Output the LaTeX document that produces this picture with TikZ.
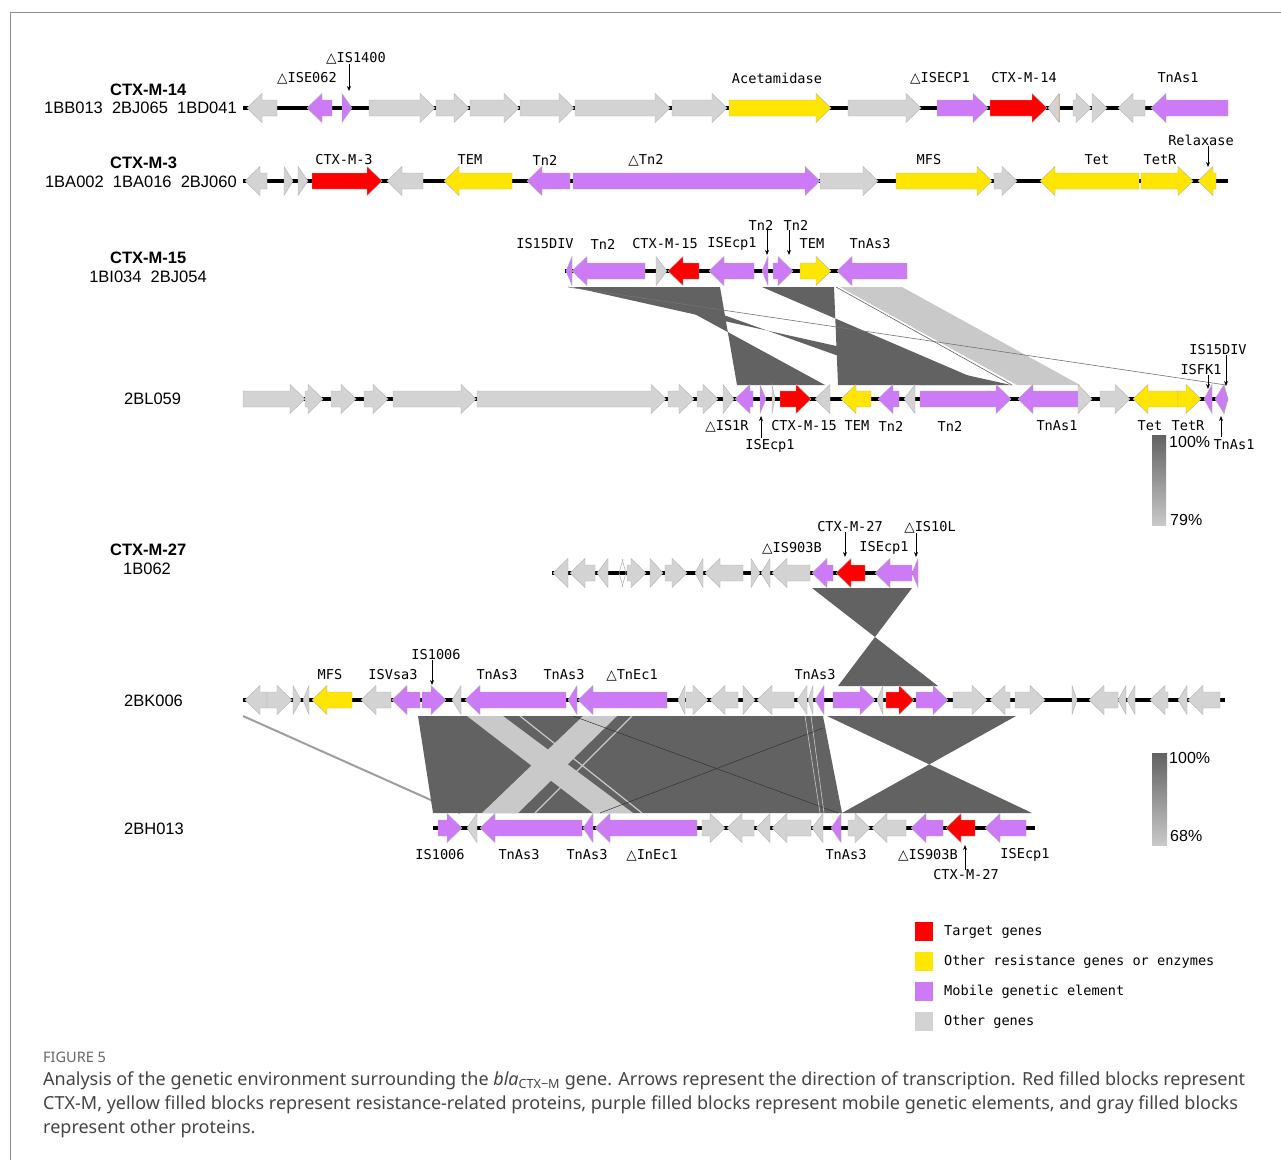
\documentclass[tikz,border=0pt]{standalone}
\usepackage{fontspec}
\setmainfont{Liberation Sans}
\newfontfamily\genefont{DejaVu Sans Mono}
\newfontfamily\trifont{DejaVu Sans}
\newfontfamily\captfont{Noto Sans}
\usetikzlibrary{arrows.meta}
\definecolor{gry}{RGB}{211,211,211}
\definecolor{pur}{RGB}{204,122,245}
\definecolor{yel}{RGB}{255,230,0}
\definecolor{rd}{RGB}{255,0,0}
\definecolor{lkd}{RGB}{98,98,98}
\definecolor{lkl}{RGB}{201,201,201}
\definecolor{captgray}{RGB}{68,68,68}
\newcommand\tri{{\trifont △}}
\tikzset{
  genebd/.style={draw=black!30,line width=0.4pt},
  backbone/.style={line width=3.5pt,black},
  glab/.style={font=\genefont\fontsize{13.6}{15}\selectfont,inner sep=0pt},
  rowlab/.style={font=\fontsize{16.5}{18}\selectfont,inner sep=0pt},
  rowbold/.style={font=\bfseries\fontsize{16.5}{18}\selectfont,inner sep=0pt,anchor=west},
  ptr/.style={-{Stealth[length=5pt,width=4pt]},line width=0.8pt,black},
  pctlab/.style={font=\fontsize{16}{18}\selectfont,inner sep=0pt,anchor=west},
  capt/.style={font=\captfont\fontsize{18}{22}\selectfont,text=captgray,inner sep=0pt,anchor=west},
  legbox/.style={inner sep=0pt,minimum width=18pt,minimum height=19pt},
}
% right-pointing gene: x1 x2 y colour
\newcommand\gR[4]{%
  \pgfmathsetmacro\hb{max(#1,#2-15)}%
  \filldraw[genebd,fill=#4] (#1,#3-8) -- (\hb,#3-8) -- (\hb,#3-14.5) -- (#2,#3) -- (\hb,#3+14.5) -- (\hb,#3+8) -- (#1,#3+8) -- cycle;}
% left-pointing gene: x1 (tip) x2 y colour
\newcommand\gL[4]{%
  \pgfmathsetmacro\hb{min(#2,#1+15)}%
  \filldraw[genebd,fill=#4] (#2,#3-8) -- (\hb,#3-8) -- (\hb,#3-14.5) -- (#1,#3) -- (\hb,#3+14.5) -- (\hb,#3+8) -- (#2,#3+8) -- cycle;}
\begin{document}
\begin{tikzpicture}[x=1pt,y=-1pt]
\useasboundingbox (0,0) rectangle (1281,1160);
\fill[white] (0,0) rectangle (1281,1160);
\draw[black!45,line width=0.8pt] (10,1160) -- (10,12) -- (1281,12);

% ---------------- links ----------------
% row 3 -> row 4
\fill[lkd] (572,287) -- (645,287) -- (920,385) -- (1011,385) -- cycle;
\fill[lkd] (645,287) -- (720,287) -- (737,385) -- (825,385) -- cycle;
\fill[lkd] (762,287) -- (834,287) -- (838,385) -- (990,385) -- cycle;
\fill[lkl] (840,287) -- (902,287) -- (1080,385) -- (1017,385) -- cycle;
\draw[lkd,line width=0.6pt] (836,287) -- (1012,385);
\draw[black!55,line width=0.6pt] (568,287) -- (1226,385);
% row 5 -> row 6
\fill[lkd] (812,588) -- (912,588) -- (838,686) -- (938,686) -- cycle;
% row 6 -> row 7
\draw[black!38,line width=2pt] (243,716) -- (460,813);
\fill[lkd] (418,716) -- (823,716) -- (842,813) -- (433,813) -- cycle;
\fill[lkl] (467,716) -- (503,716) -- (633,813) -- (593,813) -- cycle;
\fill[lkl] (583,716) -- (617,716) -- (518,813) -- (482,813) -- cycle;
\draw[lkl,line width=1.2pt] (520,716) -- (642,813);
\draw[lkl,line width=1.2pt] (632,716) -- (535,813);
\draw[black!80,line width=0.5pt] (573,716) -- (838,813);
\draw[black!80,line width=0.5pt] (600,813) -- (823,728);
\draw[lkl,line width=0.6pt] (805,716) -- (820,813);
\draw[lkl,line width=0.6pt] (811,716) -- (824,813);
\fill[lkd] (827,716) -- (1016,716) -- (842,813) -- (1032,813) -- cycle;

% ---------------- row 1 : CTX-M-14 ----------------
\draw[backbone] (243,108) -- (1228,108);
\gL{247}{277}{108}{gry}
\gL{307}{332}{108}{pur}
\gR{342}{352}{108}{pur}
\gR{369}{435}{108}{gry}
\gR{436}{469}{108}{gry}
\gR{470}{519}{108}{gry}
\gR{520}{574}{108}{gry}
\gR{575}{670}{108}{gry}
\gR{672}{727}{108}{gry}
\gR{729}{831}{108}{yel}
\gR{848}{921}{108}{gry}
\gR{937}{988}{108}{pur}
\gR{990}{1047}{108}{rd}
\gL{1048}{1059}{108}{gry}
\draw[brown!60,line width=0.8pt] (1059,94) -- (1059,122);
\gR{1073}{1091}{108}{gry}
\gR{1092}{1107}{108}{gry}
\gL{1118}{1145}{108}{gry}
\gL{1151}{1228}{108}{pur}
\node[rowbold] (h14) at (110,90) {CTX-M-14};
\node[rowlab,anchor=east] (i14) at (237,108) {1BB013\ \ 2BJ065\ \ 1BD041};
\node[glab] (l062) at (307,78) {\tri ISE062};
\node[glab] (l1400) at (356,58) {\tri IS1400};
\coordinate (p1400) at (349,91);
\draw[ptr] (l1400.south -| p1400) -- (p1400);
\node[glab] (lacet) at (777,78) {Acetamidase};
\node[glab] (lecp) at (940,78) {\tri ISECP1};
\node[glab] (l14) at (1024,78) {CTX-M-14};
\node[glab] (las1) at (1178,78) {TnAs1};

% ---------------- row 2 : CTX-M-3 ----------------
\draw[backbone] (243,181) -- (1228,181);
\gL{245}{267}{181}{gry}
\gR{284}{293}{181}{gry}
\gR{298}{308}{181}{gry}
\gR{312}{382}{181}{rd}
\gL{387}{423}{181}{gry}
\gL{444}{512}{181}{yel}
\gL{527}{570}{181}{pur}
\gR{573}{820}{181}{pur}
\gR{820}{878}{181}{gry}
\gR{896}{992}{181}{yel}
\gR{994}{1017}{181}{gry}
\gL{1040}{1139}{181}{yel}
\gR{1141}{1193}{181}{yel}
\gL{1198}{1216}{181}{yel}
\node[rowbold] (h3) at (110,163) {CTX-M-3};
\node[rowlab,anchor=east] (i3) at (237,182) {1BA002\ \ 1BA016\ \ 2BJ060};
\node[glab] (m3) at (344,160) {CTX-M-3};
\node[glab] (tem2) at (470,160) {TEM};
\node[glab] (tn2a) at (545,160) {Tn2};
\node[glab] (dtn2) at (646,160) {\tri Tn2};
\node[glab] (mfs2) at (929,160) {MFS};
\node[glab] (tet2) at (1097,160) {Tet};
\node[glab] (tetr2) at (1160,160) {TetR};
\node[glab] (relx) at (1201,140) {Relaxase};
\coordinate (prel) at (1208,167);
\draw[ptr] (relx.south -| prel) -- (prel);

% ---------------- row 3 : CTX-M-15 ----------------
\draw[backbone] (565,271) -- (907,271);
\gL{566}{572}{271}{pur}
\gL{572}{645}{271}{pur}
\gR{656}{667}{271}{gry}
\gL{668}{699}{271}{rd}
\gL{709}{754}{271}{pur}
\gL{762}{768}{271}{pur}
\gR{773}{793}{271}{pur}
\gR{800}{831}{271}{yel}
\gL{837}{907}{271}{pur}
\node[rowbold] (h15) at (110,258) {CTX-M-15};
\node[rowlab] (i15) at (148,277) {1BI034\ \ 2BJ054};
\node[glab] (is15) at (545,244) {IS15DIV};
\node[glab] (tn2b) at (603,244) {Tn2};
\node[glab] (m15) at (665,244) {CTX-M-15};
\node[glab] (ecp3) at (732,244) {ISEcp1};
\node[glab] (tn2c) at (761,225) {Tn2};
\node[glab] (tn2d) at (796,225) {Tn2};
\node[glab] (tem3) at (812,244) {TEM};
\node[glab] (as3) at (870,244) {TnAs3};
\coordinate (ptn2c) at (767,255);
\coordinate (ptn2d) at (789,255);
\draw[ptr] (tn2c.south -| ptn2c) -- (ptn2c);
\draw[ptr] (tn2d.south -| ptn2d) -- (ptn2d);

% ---------------- row 4 : 2BL059 ----------------
\draw[backbone] (243,399) -- (1228,399);
\gR{243}{305}{399}{gry}
\gR{305}{323}{399}{gry}
\gR{331}{356}{399}{gry}
\gR{364}{388}{399}{gry}
\gR{393}{476}{399}{gry}
\gR{477}{666}{399}{gry}
\gR{668}{694}{399}{gry}
\gR{697}{718}{399}{gry}
\gR{723}{734}{399}{gry}
\gL{735}{753}{399}{pur}
\gR{760}{766}{399}{pur}
\gR{772}{775}{399}{gry}
\gR{780}{811}{399}{rd}
\gL{815}{830}{399}{gry}
\gL{841}{871}{399}{yel}
\gL{878}{899}{399}{pur}
\gL{904}{915}{399}{gry}
\gR{920}{1011}{399}{pur}
\gL{1018}{1078}{399}{pur}
\gR{1078}{1092}{399}{gry}
\gR{1100}{1130}{399}{gry}
\gL{1133}{1178}{399}{yel}
\gR{1178}{1201}{399}{yel}
\gL{1204}{1212}{399}{pur}
\gL{1215}{1224}{399}{pur}
\gR{1224}{1228}{399}{pur}
\node[rowlab,anchor=west] (h059) at (124,399) {2BL059};
\node[glab] (is1r) at (727,426) {\tri IS1R};
\node[glab] (m15b) at (804,426) {CTX-M-15};
\node[glab] (tem4) at (857,426) {TEM};
\node[glab] (tn2e) at (891,426) {Tn2};
\node[glab] (tn2f) at (950,426) {Tn2};
\node[glab] (as1b) at (1057,426) {TnAs1};
\node[glab] (tet4) at (1150,426) {Tet};
\node[glab] (tetr4) at (1188,426) {TetR};
\node[glab] (ecp4) at (770,446) {ISEcp1};
\coordinate (pecp4) at (761,416);
\draw[ptr] (761,438) -- (pecp4);
\node[glab] (as1c) at (1234,445) {TnAs1};
\coordinate (pas1c) at (1221,416);
\draw[ptr] (1221,437) -- (pas1c);
\node[glab] (is15b) at (1218,350) {IS15DIV};
\coordinate (pis15b) at (1226,386);
\draw[ptr] (is15b.south -| pis15b) -- (pis15b);
\node[glab] (isfk) at (1201,370) {ISFK1};
\coordinate (pisfk) at (1208,389);
\draw[ptr] (isfk.south -| pisfk) -- (pisfk);
% scale bar 1
\shade[top color=lkd,bottom color=lkl] (1152,435) rectangle (1166,525);
\node[pctlab] (p100a) at (1169,442) {100\%};
\node[pctlab] (p79) at (1170,520) {79\%};

% ---------------- row 5 : CTX-M-27 ----------------
\draw[backbone] (552,573) -- (918,573);
\gL{553}{568}{573}{gry}
\gL{570}{595}{573}{gry}
\gL{597}{608}{573}{gry}
\draw[black!35,line width=0.5pt] (623,559) -- (619,573) -- (623,587);
\draw[black!35,line width=0.5pt] (622,559) -- (626,573) -- (622,587);
\gR{627}{646}{573}{gry}
\gR{650}{663}{573}{gry}
\gR{665}{687}{573}{gry}
\gL{695}{703}{573}{gry}
\gL{705}{743}{573}{gry}
\gR{751}{760}{573}{gry}
\gL{761}{770}{573}{gry}
\gL{772}{810}{573}{gry}
\gL{812}{833}{573}{pur}
\gL{836}{865}{573}{rd}
\gL{875}{912}{573}{pur}
\gL{912}{918}{573}{pur}
\node[rowbold] (h27) at (110,550) {CTX-M-27};
\node[rowlab] (i27) at (147,569) {1B062};
\node[glab] (is903) at (792,548) {\tri IS903B};
\node[glab] (m27) at (850,527) {CTX-M-27};
\node[glab] (ecp5) at (884,548) {ISEcp1};
\node[glab] (is10) at (930,527) {\tri IS10L};
\coordinate (pm27) at (845,557);
\coordinate (pis10) at (916,557);
\draw[ptr] (m27.south -| pm27) -- (pm27);
\draw[ptr] (is10.south -| pis10) -- (pis10);

% ---------------- row 6 : 2BK006 ----------------
\draw[backbone] (243,700) -- (1225,700);
\gL{245}{267}{700}{gry}
\gR{267}{292}{700}{gry}
\gR{293}{301}{700}{gry}
\gL{303}{309}{700}{gry}
\gL{312}{352}{700}{yel}
\gL{361}{391}{700}{gry}
\gL{392}{420}{700}{pur}
\gR{422}{446}{700}{pur}
\gL{452}{461}{700}{gry}
\gL{465}{566}{700}{pur}
\gL{568}{577}{700}{pur}
\gL{578}{667}{700}{pur}
\gL{678}{685}{700}{gry}
\gR{686}{708}{700}{gry}
\gL{710}{738}{700}{gry}
\gR{743}{755}{700}{gry}
\gL{757}{794}{700}{gry}
\gL{797}{807}{700}{gry}
\gL{808}{813}{700}{gry}
\gL{815}{824}{700}{pur}
\gR{833}{875}{700}{pur}
\gL{877}{883}{700}{gry}
\gR{886}{914}{700}{rd}
\gR{916}{948}{700}{pur}
\gR{953}{987}{700}{gry}
\gL{990}{1010}{700}{gry}
\gR{1015}{1045}{700}{gry}
\gR{1072}{1077}{700}{gry}
\gL{1089}{1118}{700}{gry}
\gL{1118}{1126}{700}{gry}
\gL{1127}{1135}{700}{gry}
\gL{1150}{1168}{700}{gry}
\gL{1178}{1187}{700}{gry}
\gL{1188}{1220}{700}{gry}
\node[rowlab,anchor=west] (h006) at (124,701) {2BK006};
\node[glab] (mfs6) at (330,675) {MFS};
\node[glab] (vsa) at (393,675) {ISVsa3};
\node[glab] (i1006a) at (436,655) {IS1006};
\coordinate (pi1006) at (432,685);
\draw[ptr] (i1006a.south -| pi1006) -- (pi1006);
\node[glab] (as3a) at (497,675) {TnAs3};
\node[glab] (as3b) at (564,675) {TnAs3};
\node[glab] (tnec) at (632,675) {\tri TnEc1};
\node[glab] (as3c) at (815,675) {TnAs3};

% ---------------- row 7 : 2BH013 ----------------
\draw[backbone] (433,828) -- (1035,828);
\gR{438}{462}{828}{pur}
\gL{467}{477}{828}{gry}
\gL{480}{582}{828}{pur}
\gL{583}{593}{828}{pur}
\gL{595}{697}{828}{pur}
\gR{702}{725}{828}{gry}
\gL{727}{754}{828}{gry}
\gL{756}{770}{828}{gry}
\gL{772}{811}{828}{gry}
\gL{812}{823}{828}{gry}
\gL{831}{841}{828}{pur}
\gR{848}{870}{828}{gry}
\gL{872}{906}{828}{gry}
\gL{911}{943}{828}{pur}
\gL{946}{975}{828}{rd}
\gL{985}{1026}{828}{pur}
\node[rowlab,anchor=west] (h013) at (124,829) {2BH013};
\node[glab] (i1006b) at (440,855) {IS1006};
\node[glab] (as3d) at (519,855) {TnAs3};
\node[glab] (as3e) at (587,855) {TnAs3};
\node[glab] (inec) at (652,855) {\tri InEc1};
\node[glab] (as3f) at (846,855) {TnAs3};
\node[glab] (is903b) at (928,855) {\tri IS903B};
\node[glab] (ecp7) at (1025,855) {ISEcp1};
\node[glab] (m27b) at (966,875) {CTX-M-27};
\coordinate (pm27b) at (965,845);
\draw[ptr] (m27b.north -| pm27b) -- (pm27b);
% scale bar 2
\shade[top color=lkd,bottom color=lkl] (1152,753) rectangle (1167,845);
\node[pctlab] (p100b) at (1169,758) {100\%};
\node[pctlab] (p68) at (1170,836) {68\%};

% ---------------- legend ----------------
\node[legbox,fill=rd] (k1) at (924,931.5) {};
\node[legbox,fill=yel] (k2) at (924,961.5) {};
\node[legbox,fill=pur] (k3) at (924,991.5) {};
\node[legbox,fill=gry] (k4) at (924,1021.5) {};
\node[glab,anchor=west] (t1) at (944,932) {Target genes};
\node[glab,anchor=west] (t2) at (944,962) {Other resistance genes or enzymes};
\node[glab,anchor=west] (t3) at (944,992) {Mobile genetic element};
\node[glab,anchor=west] (t4) at (944,1022) {Other genes};

% ---------------- caption ----------------
\node[font=\captfont\fontsize{14.5}{16}\selectfont,text=black!60,inner sep=0pt,anchor=west] (fig) at (43,1057) {FIGURE 5};
\node[capt] (c1) at (43,1081) {Analysis of the genetic environment surrounding the \textit{bla}\textsubscript{CTX−M} gene. Arrows represent the direction of transcription. Red filled blocks represent};
\node[capt] (c2) at (43,1105) {CTX-M, yellow filled blocks represent resistance-related proteins, purple filled blocks represent mobile genetic elements, and gray filled blocks};
\node[capt] (c3) at (43,1129) {represent other proteins.};
\end{tikzpicture}
\end{document}
